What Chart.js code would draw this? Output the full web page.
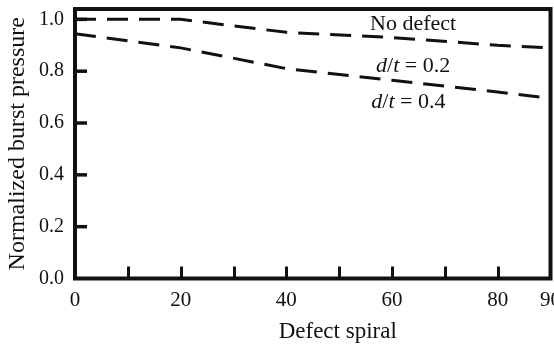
<!DOCTYPE html>
<html>
<head>
<meta charset="utf-8">
<script src="https://cdn.jsdelivr.net/npm/chart.js@4.4.0/dist/chart.umd.min.js"></script>
<style>
  html, body { margin: 0; padding: 0; background: #fff; }
  canvas { display: block; }
</style>
</head>
<body>
<canvas id="burstChart" width="554" height="345"></canvas>
<script>
// Defect spiral angle vs normalized burst pressure
var spiral = [0, 20, 40, 60, 80, 90];
var upperCurve = [1.0, 1.0, 0.95, 0.93, 0.90, 0.89];
var lowerCurve = [0.945, 0.89, 0.81, 0.765, 0.72, 0.695];

var xTickLabels = [0, 20, 40, 60, 80, 90];
var xTickMarks = [10, 20, 30, 40, 50, 60, 70, 80];
var yTickLabels = [0, 0.2, 0.4, 0.6, 0.8, 1.0];

// curve labels, [text, italic] pieces
var curveNames = [
  [['No defect', false]],
  [['d', true], ['/', false], ['t', true], [' = 0.2', false]],
  [['d', true], ['/', false], ['t', true], [' = 0.4', false]]
];

var serif = "'Liberation Serif', 'Times New Roman', serif";
var ink = '#111';

function toPoints(xs, ys) {
  return xs.map(function(x, i) { return { x: x, y: ys[i] }; });
}

// frame, inward ticks, curve labels and x title
var framePlugin = {
  id: 'frame',
  afterDraw: function(chart) {
    var ctx = chart.ctx;
    var a = chart.chartArea;
    var xs = chart.scales.x;
    var ys = chart.scales.y;
    ctx.save();
    ctx.strokeStyle = ink;
    ctx.lineWidth = 4;
    ctx.strokeRect(a.left, a.top, a.right - a.left, a.bottom - a.top);

    ctx.lineWidth = 3;
    xTickMarks.forEach(function(v) {
      var px = Math.round(xs.getPixelForValue(v)) + 0.5;
      ctx.beginPath();
      ctx.moveTo(px, a.bottom);
      ctx.lineTo(px, a.bottom - 12);
      ctx.stroke();
    });
    ctx.lineWidth = 3.5;
    yTickLabels.slice(1).forEach(function(v) {
      var py = ys.getPixelForValue(v);
      ctx.beginPath();
      ctx.moveTo(a.left, py);
      ctx.lineTo(a.left + 12, py);
      ctx.stroke();
    });

    // label anchors in data units (center x, baseline y)
    var anchors = [[64, 0.959], [64, 0.797], [63.1, 0.658]];
    ctx.fillStyle = ink;
    ctx.textBaseline = 'alphabetic';
    ctx.textAlign = 'left';
    curveNames.forEach(function(parts, i) {
      var total = 0;
      parts.forEach(function(p) {
        ctx.font = (p[1] ? 'italic ' : '') + '22px ' + serif;
        total += ctx.measureText(p[0]).width;
      });
      var cx = xs.getPixelForValue(anchors[i][0]) - total / 2;
      var cy = ys.getPixelForValue(anchors[i][1]);
      parts.forEach(function(p) {
        ctx.font = (p[1] ? 'italic ' : '') + '22px ' + serif;
        ctx.fillText(p[0], cx, cy);
        cx += ctx.measureText(p[0]).width;
      });
    });

    ctx.font = '23px ' + serif;
    ctx.textAlign = 'center';
    ctx.fillText('Defect spiral', (a.left + a.right) / 2 + 25, 338);
    ctx.restore();
  }
};

var ctx = document.getElementById('burstChart').getContext('2d');
var chart = new Chart(ctx, {
  type: 'line',
  data: {
    datasets: [
      {
        label: 'Upper',
        data: toPoints(spiral, upperCurve),
        borderColor: ink,
        borderWidth: 3,
        borderDash: [21, 11],
        pointRadius: 0,
        fill: false,
        tension: 0
      },
      {
        label: 'Lower',
        data: toPoints(spiral, lowerCurve),
        borderColor: ink,
        borderWidth: 3,
        borderDash: [21, 11],
        pointRadius: 0,
        fill: false,
        tension: 0
      }
    ]
  },
  options: {
    responsive: false,
    animation: false,
    layout: { padding: { top: 9, right: 3.5, left: 0, bottom: 0 } },
    plugins: {
      legend: { display: false },
      tooltip: { enabled: false }
    },
    scales: {
      x: {
        type: 'linear',
        min: 0,
        max: 90,
        grid: { display: false, drawTicks: false },
        border: { display: false },
        afterBuildTicks: function(scale) {
          scale.ticks = xTickLabels.map(function(v) { return { value: v }; });
        },
        afterFit: function(scale) {
          scale.height = 66.5;
          scale.paddingLeft = 0;
          scale.paddingRight = 0;
        },
        ticks: {
          color: ink,
          font: { family: serif, size: 21 },
          maxRotation: 0,
          autoSkip: false,
          padding: 9
        }
      },
      y: {
        min: 0,
        max: 1.04,
        grid: { display: false, drawTicks: false },
        border: { display: false },
        afterBuildTicks: function(scale) {
          scale.ticks = yTickLabels.map(function(v) { return { value: v }; });
        },
        afterFit: function(scale) {
          scale.width = 75;
          scale.paddingTop = 0;
          scale.paddingBottom = 0;
        },
        ticks: {
          color: ink,
          font: { family: serif, size: 20 },
          padding: 11,
          callback: function(v) { return v.toFixed(1); }
        },
        title: {
          display: true,
          text: 'Normalized burst pressure',
          color: ink,
          font: { family: serif, size: 24 },
          padding: { top: 3, bottom: 0 }
        }
      }
    }
  },
  plugins: [framePlugin]
});
</script>
</body>
</html>
